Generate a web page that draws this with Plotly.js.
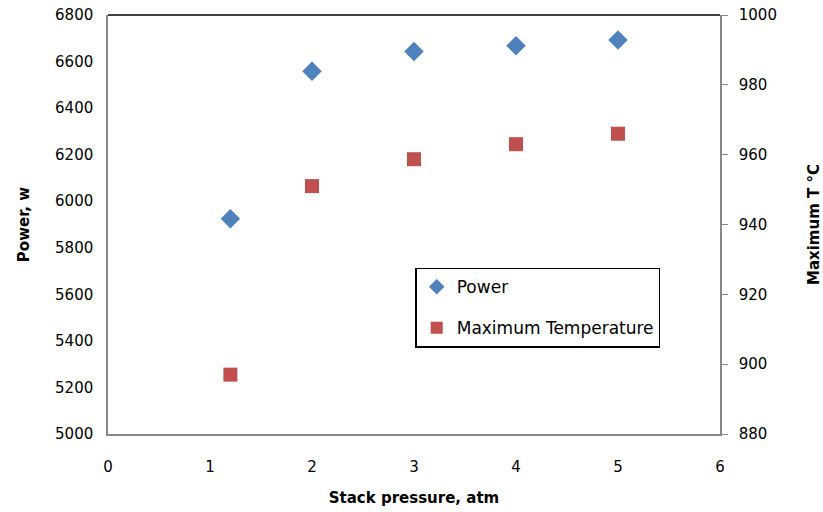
<!DOCTYPE html>
<html><head><meta charset="utf-8">
<script src="https://cdn.plot.ly/plotly-3.0.1.min.js"></script>
<style>body{margin:0;background:#fff}</style>
</head><body><div id="c" style="width:823px;height:512px"></div>
<script>
const pressure = [1.2, 2, 3, 4, 5];
const power = [5925, 6558, 6643, 6668, 6693];
const maxTemp = [897, 951, 958.7, 963, 966];

const fnt = {family: "Verdana, 'DejaVu Sans', sans-serif", size: 15, color: '#000'};
const tfont = {family: "Tahoma, 'DejaVu Sans', sans-serif", size: 15, color: '#000'};
const data = [
  {x: pressure, y: power, type: 'scatter', mode: 'markers', name: 'Power', legendgroup: 'a',
   marker: {symbol: 'diamond', size: 15, color: '#4F81BD'}, yaxis: 'y'},
  {x: pressure, y: maxTemp, type: 'scatter', mode: 'markers', name: 'Maximum Temperature', legendgroup: 'b',
   marker: {symbol: 'square', size: 14, color: '#C0504D'}, yaxis: 'y2'}
];
const layout = {
  width: 823, height: 512,
  margin: {l: 108, r: 103, t: 15, b: 78},
  paper_bgcolor: '#fff', plot_bgcolor: '#fff',
  font: fnt,
  showlegend: true,
  legend: {x: 0.502, y: 0.397, xanchor: 'left', yanchor: 'top',
    bordercolor: '#000', borderwidth: 1.5, bgcolor: '#fff', traceorder: 'grouped',
    font: {family: "Verdana, 'DejaVu Sans', sans-serif", size: 17, color: '#000'},
    tracegroupgap: 16, itemsizing: 'constant', itemwidth: 30},
  xaxis: {range: [0, 6], dtick: 1, showgrid: false, zeroline: false,
    showline: true, linecolor: '#888', linewidth: 1.5, ticks: '',
    tickfont: fnt, ticklabelstandoff: 18,
    title: {text: '<b>Stack pressure, atm</b>', font: tfont, standoff: 18}},
  yaxis: {range: [5000, 6800], dtick: 200, showgrid: false, zeroline: false,
    showline: true, linecolor: '#888', linewidth: 1.5, ticks: '', tickfont: fnt,
    ticklabelstandoff: 10,
    title: {text: '<b>Power, w</b>', font: tfont, standoff: 22}},
  yaxis2: {range: [880, 1000], dtick: 20, overlaying: 'y', side: 'right',
    showgrid: false, zeroline: false, showline: true, linecolor: '#888', linewidth: 1.5,
    ticks: 'outside', ticklen: 6, tickcolor: '#888', tickfont: fnt, ticklabelstandoff: 8,
    title: {text: '<b>Maximum T °C</b>', font: tfont, standoff: 34}},
  shapes: [{type: 'line', xref: 'paper', yref: 'paper', x0: 0, x1: 1, y0: 1, y1: 1,
    line: {color: '#000', width: 1.5}}]
};
Plotly.newPlot('c', data, layout, {displayModeBar: false});
</script></body></html>
